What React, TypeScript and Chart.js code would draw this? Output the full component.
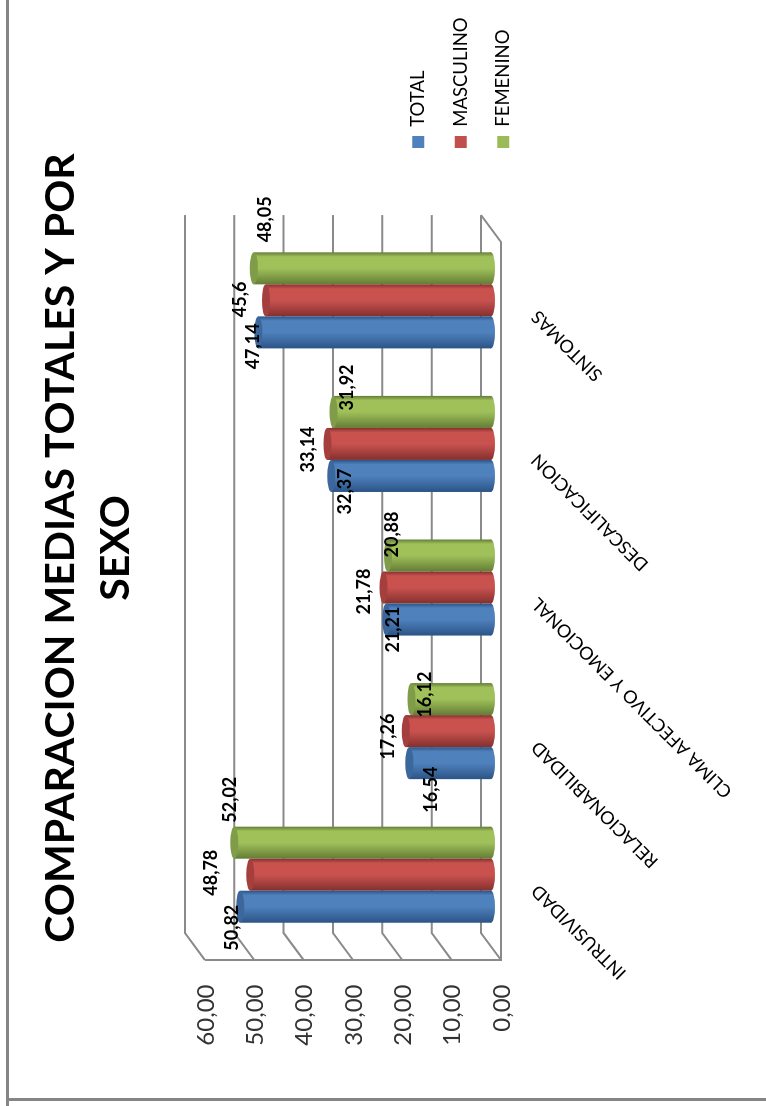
import React, { useEffect, useRef } from "react";
import { Chart, registerables } from "chart.js";

Chart.register(...registerables);

const categories = [
  "INTRUSIVIDAD",
  "RELACIONABILIDAD",
  "CLIMA AFECTIVO Y EMOCIONAL",
  "DESCALIFICACION",
  "SINTOMAS",
];
const total = [50.82, 16.54, 21.21, 32.37, 47.14];
const masculino = [48.78, 17.26, 21.78, 33.14, 45.6];
const femenino = [52.02, 16.12, 20.88, 31.92, 48.05];
const valueLabels = [
  ["50,82", "16,54", "21,21", "32,37", "47,14"],
  ["48,78", "17,26", "21,78", "33,14", "45,6"],
  ["52,02", "16,12", "20,88", "31,92", "48,05"],
];

// Hand placement of each value label relative to its bar end, as [along, across].
const labelNudges = [
  [[-21, -8], [-26.5, 22], [-10, 7], [-15.5, 14], [-14, -5.5]],
  [[2, -39], [-5.5, -18], [-4, -19], [-5.5, -19.5], [1, -26]],
  [[43, -4], [4.5, 13.5], [21, 4], [24.5, 13.5], [49, 11]],
];

const WIDTH = 1106;
const HEIGHT = 766;
const FONT = "Lato";
const LINE = "#8a8a8a";
const DEPTH_X = 13.5;
const DEPTH_Y = 10;

const shades = [
  { edge: "#2b5486", mid: "#4f81bd", cap: "#3b679c" },
  { edge: "#84302e", mid: "#c9524f", cap: "#a53f3d" },
  { edge: "#637d35", mid: "#a0c05a", cap: "#7f9c48" },
];

// Floor, back wall and side wall of the box around the bars, plus the outer frame.
const boxPlugin = {
  id: "box",
  beforeDatasetsDraw(chart: any) {
    const { ctx, chartArea, scales } = chart;
    const { left, right } = chartArea;
    const y = scales.y;
    ctx.save();
    ctx.strokeStyle = "#858585";
    ctx.lineWidth = 3;
    ctx.beginPath();
    ctx.moveTo(0, 7.5);
    ctx.lineTo(WIDTH, 7.5);
    ctx.moveTo(6.5, 7.5);
    ctx.lineTo(6.5, HEIGHT);
    ctx.stroke();

    ctx.strokeStyle = LINE;
    ctx.lineWidth = 2;
    ctx.beginPath();
    for (const tick of y.ticks) {
      const py = y.getPixelForValue(tick.value);
      ctx.moveTo(right + DEPTH_X, py - DEPTH_Y);
      ctx.lineTo(left + DEPTH_X, py - DEPTH_Y);
      ctx.lineTo(left - DEPTH_X, py + DEPTH_Y);
    }
    const zero = y.getPixelForValue(0);
    ctx.moveTo(left - DEPTH_X, y.getPixelForValue(y.max) + DEPTH_Y);
    ctx.lineTo(left - DEPTH_X, zero + DEPTH_Y);
    ctx.lineTo(right - DEPTH_X, zero + DEPTH_Y);
    ctx.lineTo(right + DEPTH_X, zero - DEPTH_Y);
    ctx.stroke();
    ctx.restore();
  },
};

// Turns the flat bars into cylinders: shading across the bar, rounded base and end cap.
const cylinderPlugin = {
  id: "cylinder",
  beforeDatasetsDraw(chart: any) {
    const { ctx } = chart;
    chart.data.datasets.forEach((_: any, d: number) => {
      chart.getDatasetMeta(d).data.forEach((el: any) => {
        const half = el.width / 2;
        const g = ctx.createLinearGradient(el.x + half, 0, el.x - half, 0);
        g.addColorStop(0, shades[d].edge);
        g.addColorStop(0.14, shades[d].mid);
        g.addColorStop(0.5, shades[d].mid);
        g.addColorStop(1, shades[d].edge);
        el.options = { ...el.options, backgroundColor: g };
        ctx.save();
        ctx.fillStyle = g;
        ctx.beginPath();
        ctx.ellipse(el.x, el.base, half, 4, 0, 0, Math.PI * 2);
        ctx.fill();
        ctx.restore();
      });
    });
  },
  afterDatasetsDraw(chart: any) {
    const { ctx } = chart;
    chart.data.datasets.forEach((_: any, d: number) => {
      chart.getDatasetMeta(d).data.forEach((el: any) => {
        ctx.save();
        ctx.fillStyle = shades[d].cap;
        ctx.beginPath();
        ctx.ellipse(el.x, el.y, el.width / 2, 4, 0, 0, Math.PI * 2);
        ctx.fill();
        ctx.restore();
      });
    });
  },
};

const valueLabelPlugin = {
  id: "valueLabels",
  afterDraw(chart: any) {
    const { ctx } = chart;
    ctx.save();
    ctx.fillStyle = "#000";
    ctx.font = `bold 18px ${FONT}`;
    ctx.textAlign = "center";
    ctx.textBaseline = "middle";
    chart.data.datasets.forEach((_: any, d: number) => {
      chart.getDatasetMeta(d).data.forEach((el: any, i: number) => {
        const [along, across] = labelNudges[d][i];
        ctx.fillText(valueLabels[d][i], el.x + along, el.y + across);
      });
    });
    ctx.restore();
  },
};

// Title and legend keep their own rendering but sit off the spots the layout gives them.
const blockPlacement = {
  id: "blockPlacement",
  afterLayout(chart: any) {
    const l = chart.legend;
    const w = l.width;
    const h = l.height;
    l.left = 934;
    l.right = 934 + w;
    l.top = 385;
    l.bottom = 385 + h;
    const t = chart.titleBlock;
    t.left += 12;
    t.right += 12;
  },
};

export default function App() {
  const ref = useRef<HTMLCanvasElement | null>(null);

  useEffect(() => {
    if (!ref.current) return;
    const chart = new Chart(ref.current, {
      type: "bar",
      data: {
        labels: categories,
        datasets: [
          { label: "TOTAL", data: total, backgroundColor: "#4f81bd" },
          { label: "MASCULINO", data: masculino, backgroundColor: "#c0504d" },
          { label: "FEMENINO", data: femenino, backgroundColor: "#9bbb59" },
        ],
      },
      options: {
        responsive: false,
        animation: false,
        layout: { padding: { left: 50, right: 64, top: 0, bottom: 0 } },
        datasets: { bar: { categoryPercentage: 0.669, barPercentage: 1, borderWidth: 0 } },
        scales: {
          x: {
            grid: { display: false, drawTicks: false },
            border: { display: false },
            afterFit: (s: any) => {
              s.height = 275;
            },
            ticks: {
              autoSkip: false,
              minRotation: 45,
              maxRotation: 45,
              padding: 36,
              labelOffset: -13,
              color: "#000",
              font: { family: FONT, size: 18 },
            },
          },
          y: {
            min: 0,
            max: 60,
            grid: { display: false, drawTicks: false },
            border: { display: false },
            afterFit: (s: any) => {
              s.width = 109.5;
            },
            ticks: {
              stepSize: 10,
              padding: 38,
              labelOffset: 11,
              color: "#333",
              font: { family: FONT, size: 24 },
              callback: (v: any) => Number(v).toFixed(2).replace(".", ","),
            },
          },
        },
        plugins: {
          title: {
            display: true,
            text: ["COMPARACION MEDIAS TOTALES Y POR", "SEXO"],
            color: "#000",
            font: { family: FONT, size: 41, weight: "bold", lineHeight: 1.34 },
            padding: { top: 33.5, bottom: 51.5 },
          },
          legend: {
            display: true,
            position: "right",
            align: "start",
            labels: {
              boxWidth: 12,
              boxHeight: 12,
              padding: 24,
              color: "#000",
              font: { family: FONT, size: 18.5 },
            },
          },
          tooltip: { enabled: false },
        },
      },
      plugins: [blockPlacement, boxPlugin, cylinderPlugin, valueLabelPlugin],
    } as any);
    return () => chart.destroy();
  }, []);

  return (
    <div style={{ position: "absolute", left: 0, top: 0, width: 766, height: 1106, overflow: "hidden" }}>
      <canvas
        ref={ref}
        width={WIDTH}
        height={HEIGHT}
        style={{
          position: "absolute",
          left: 0,
          top: 0,
          width: WIDTH,
          height: HEIGHT,
          transformOrigin: "0 0",
          transform: `translateY(${WIDTH}px) rotate(-90deg)`,
        }}
      />
    </div>
  );
}
